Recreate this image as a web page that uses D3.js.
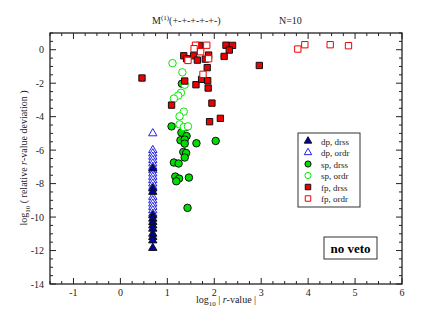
<!DOCTYPE html>
<html>
<head>
<meta charset="utf-8">
<script src="https://cdn.jsdelivr.net/npm/d3@7"></script>
<style>
  body { margin: 0; background: #fff; }
  text { font-family: "Liberation Serif", "DejaVu Serif", serif; }
</style>
</head>
<body>
<svg id="chart" width="430" height="332"></svg>
<script>
// series values: [log10|r|, log10(rel. deviation)]
var dpDrss = [[0.69,-7.1],[0.69,-8.3],[0.69,-8.5],[0.69,-9.9],[0.69,-10.1],[0.69,-10.3],[0.69,-10.5],[0.69,-10.7],[0.69,-11.0],[0.69,-11.2],[0.69,-11.4],[0.69,-11.85]];
var dpOrdr = [[0.69,-5.0],[0.69,-6.0],[0.69,-6.2],[0.69,-6.4],[0.69,-6.6],[0.69,-6.8],[0.69,-7.0],[0.69,-7.2],[0.69,-7.4],[0.69,-7.6],[0.69,-7.8],[0.69,-8.0],[0.69,-8.2],[0.69,-8.8],[0.69,-9.0],[0.69,-9.2],[0.69,-9.4],[0.69,-9.6],[0.69,-9.8]];
var spDrss = [[1.31,-2.03],[1.09,-4.58],[1.40,-4.62],[1.30,-4.95],[1.41,-5.16],[1.28,-5.41],[1.37,-5.37],[1.37,-5.61],[1.62,-5.59],[2.03,-5.45],[1.34,-6.11],[1.40,-6.17],[1.37,-6.44],[1.14,-6.74],[1.24,-6.80],[1.17,-7.58],[1.25,-7.70],[1.19,-7.86],[1.46,-7.64],[1.43,-9.45]];
var spOrdr = [[1.11,-0.80],[1.32,-1.35],[1.37,-2.09],[1.29,-2.57],[1.23,-2.74],[1.14,-2.92],[1.35,-3.70],[1.26,-3.98],[1.26,-4.46],[1.35,-4.62],[1.44,-4.58]];
var fpDrss = [[1.69,0.26],[2.25,0.27],[2.39,0.26],[2.32,-0.02],[1.35,-0.36],[1.41,-0.54],[1.56,-0.36],[1.64,-0.62],[1.88,-0.32],[1.81,-0.56],[2.21,-0.40],[1.85,-1.07],[1.37,-1.87],[1.61,-2.09],[1.73,-1.77],[1.86,-1.85],[1.87,-2.29],[0.46,-1.69],[1.09,-3.31],[1.95,-3.19],[1.90,-4.30],[2.13,-4.10],[2.96,-0.94]];
var fpOrdr = [[1.60,0.27],[1.84,0.27],[1.57,0.06],[1.71,-0.12],[1.44,-0.64],[1.88,-0.54],[1.76,-1.47],[3.78,0.04],[3.93,0.30],[4.47,0.30],[4.86,0.24]];

var xTicks = [-1, 0, 1, 2, 3, 4, 5, 6];
var yTicks = [0, -2, -4, -6, -8, -10, -12, -14];
var legendLabels = ["dp, drss", "dp, ordr", "sp, drss", "sp, ordr", "fp, drss", "fp, ordr"];

var svg = d3.select("#chart");
var pLeft = 50, pRight = 402, pTop = 33, pBottom = 284;

var x = d3.scaleLinear().domain([-1.5, 6]).range([pLeft, pRight]);
var y = d3.scaleLinear().domain([-14, 1]).range([pBottom, pTop]);

/* frame */
svg.append("rect").attr("x", pLeft).attr("y", pTop)
    .attr("width", pRight - pLeft).attr("height", pBottom - pTop)
    .attr("fill", "none").attr("stroke", "#222").attr("stroke-width", 1.3);

/* ticks: major + minor, inward, on all four sides */
var xMinor = d3.range(-1.5, 6.01, 0.25);
var yMinor = d3.range(-14, 1.01, 0.5);
var tg = svg.append("g").attr("stroke", "#222").attr("stroke-width", 1);
xMinor.forEach(function(v) {
  var major = Math.abs(v - Math.round(v)) < 1e-6;
  var len = major ? 6 : 3;
  tg.append("line").attr("x1", x(v)).attr("x2", x(v)).attr("y1", pBottom).attr("y2", pBottom - len);
  tg.append("line").attr("x1", x(v)).attr("x2", x(v)).attr("y1", pTop).attr("y2", pTop + len);
});
yMinor.forEach(function(v) {
  var major = Math.abs(v / 2 - Math.round(v / 2)) < 1e-6;
  var len = major ? 6 : 3;
  tg.append("line").attr("y1", y(v)).attr("y2", y(v)).attr("x1", pLeft).attr("x2", pLeft + len);
  tg.append("line").attr("y1", y(v)).attr("y2", y(v)).attr("x1", pRight).attr("x2", pRight - len);
});

svg.append("g").selectAll("text").data(xTicks).enter().append("text")
    .attr("x", function(d) { return x(d); }).attr("y", pBottom + 12)
    .attr("text-anchor", "middle").attr("font-size", 10).attr("fill", "#222")
    .text(function(d) { return d; });

svg.append("g").selectAll("text").data(yTicks).enter().append("text")
    .attr("x", pLeft - 6).attr("y", function(d) { return y(d) + 3.5; })
    .attr("text-anchor", "end").attr("font-size", 10).attr("fill", "#222")
    .text(function(d) { return d; });

/* axis labels */
var xl = svg.append("text").attr("x", 226).attr("y", 303).attr("text-anchor", "middle")
    .attr("font-size", 10).attr("fill", "#222");
xl.append("tspan").text("log");
xl.append("tspan").attr("font-size", 7).attr("dy", 3).text("10");
xl.append("tspan").attr("dy", -3).text(" | ");
xl.append("tspan").attr("font-style", "italic").text("r");
xl.append("tspan").text("-value |");

var yl = svg.append("text").attr("transform", "translate(27,158) rotate(-90)")
    .attr("text-anchor", "middle").attr("font-size", 10).attr("fill", "#222");
yl.append("tspan").text("log");
yl.append("tspan").attr("font-size", 7).attr("dy", 3).text("10");
yl.append("tspan").attr("dy", -3).text(" ( relative ");
yl.append("tspan").attr("font-style", "italic").text("r");
yl.append("tspan").text("-value deviation )");

/* title */
var t1 = svg.append("text").attr("x", 152).attr("y", 24).attr("font-size", 10).attr("fill", "#222");
t1.append("tspan").text("M");
t1.append("tspan").attr("font-size", 7).attr("dy", -4).text("(1)");
t1.append("tspan").attr("dy", 4).text("(+-+-+-+-+-)");
svg.append("text").attr("x", 279).attr("y", 24).attr("font-size", 10).attr("fill", "#222").text("N=10");

/* markers */
var tri = d3.symbol().type(d3.symbolTriangle).size(30);
function drawSeries(data, kind, fill, stroke) {
  var g = svg.append("g");
  var sel = g.selectAll("path").data(data).enter().append("path")
      .attr("transform", function(d) { return "translate(" + x(d[0]) + "," + y(d[1]) + ")"; })
      .attr("fill", fill).attr("stroke", stroke).attr("stroke-width", 1);
  if (kind === "tri") sel.attr("d", tri);
  if (kind === "circ") sel.attr("d", d3.symbol().type(d3.symbolCircle).size(44));
  if (kind === "sq") sel.attr("d", d3.symbol().type(d3.symbolSquare).size(40));
}
drawSeries(spDrss, "circ", "#00dd00", "#111");
drawSeries(spOrdr, "circ", "#fff", "#00ee00");
drawSeries(dpOrdr, "tri", "#fff", "#2222ee");
drawSeries(dpDrss, "tri", "#0000aa", "#111");
drawSeries(fpDrss, "sq", "#ee0000", "#111");
drawSeries(fpOrdr, "sq", "#fff", "#ee0000");

/* legend */
var leg = svg.append("g");
leg.append("rect").attr("x", 298).attr("y", 133).attr("width", 62).attr("height", 74)
    .attr("fill", "#fff").attr("stroke", "#333").attr("stroke-width", 1);
var legStyles = [
  ["tri", "#0000aa", "#111"], ["tri", "#fff", "#2222ee"],
  ["circ", "#00dd00", "#111"], ["circ", "#fff", "#00ee00"],
  ["sq", "#ee0000", "#111"], ["sq", "#fff", "#ee0000"]
];
legendLabels.forEach(function(lab, i) {
  var yy = 141 + i * 11.5;
  var s = legStyles[i];
  var sym = s[0] === "tri" ? d3.symbolTriangle : s[0] === "circ" ? d3.symbolCircle : d3.symbolSquare;
  leg.append("path").attr("d", d3.symbol().type(sym).size(s[0] === "tri" ? 24 : 30))
      .attr("transform", "translate(308," + yy + ")")
      .attr("fill", s[1]).attr("stroke", s[2]).attr("stroke-width", 1);
  leg.append("text").attr("x", 321).attr("y", yy + 3.5).attr("font-size", 9).attr("fill", "#222").text(lab);
});

/* no veto box */
svg.append("rect").attr("x", 324).attr("y", 237).attr("width", 53).attr("height", 22)
    .attr("fill", "#fff").attr("stroke", "#333").attr("stroke-width", 1);
svg.append("text").attr("x", 350.5).attr("y", 252.5).attr("text-anchor", "middle")
    .attr("font-size", 13).attr("font-weight", "bold").attr("fill", "#000").text("no veto");
</script>
</body>
</html>
